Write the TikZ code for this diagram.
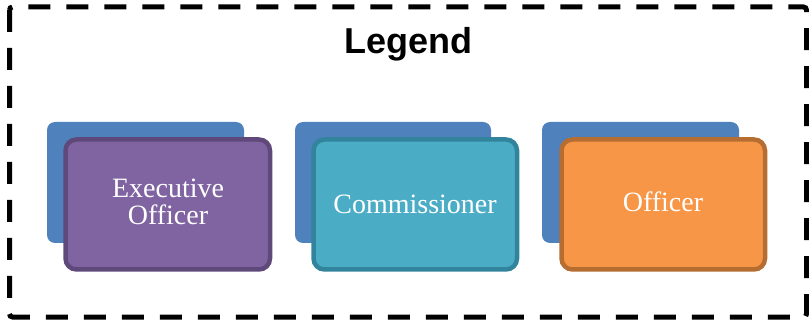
\documentclass[tikz,border=0pt]{standalone}
\usepackage{fontspec}
\setmainfont{Liberation Serif}
\newfontfamily\titlefont{Liberation Sans}
\begin{document}
\begin{tikzpicture}[x=1pt,y=-1pt,
  backbox/.style={fill=bkblue, rounded corners=8pt},
  frontbox/.style={line width=4.5pt, rounded corners=11pt},
  label/.style={text=white, align=center, inner sep=0pt, anchor=base, font=\fontsize{28}{27}\selectfont},
  ]
\definecolor{bkblue}{HTML}{4F81BD}
\definecolor{purfill}{HTML}{8064A2}
\definecolor{purline}{HTML}{5F497A}
\definecolor{tealfill}{HTML}{4BACC6}
\definecolor{tealline}{HTML}{31849B}
\definecolor{orfill}{HTML}{F79646}
\definecolor{orline}{HTML}{B66D31}
\useasboundingbox (0,0) rectangle (809,323);
\draw[line width=5pt, dash pattern=on 22pt off 16pt, rounded corners=3pt] (9.5,7) rectangle (806.5,317);
\node[font=\titlefont\bfseries\fontsize{36}{40}\selectfont, anchor=base, inner sep=0pt] (title) at (408.5,53.7) {Legend};
% Executive Officer
\fill[backbox] (47,122) rectangle (244,243);
\draw[frontbox, draw=purline, fill=purfill] (65.5,139.5) rectangle (270,269.5);
\node[label] (exec) at (168,225) {Executive\\Officer};
% Commissioner
\fill[backbox] (295,122) rectangle (491,243);
\draw[frontbox, draw=tealline, fill=tealfill] (313.5,139.5) rectangle (517,269.5);
\node[label] (comm) at (415,213.3) {Commissioner};
% Officer
\fill[backbox] (542,122) rectangle (739,243);
\draw[frontbox, draw=orline, fill=orfill] (561.5,139.5) rectangle (765,269.5);
\node[label] (off) at (663,212) {Officer};
\end{tikzpicture}
\end{document}
